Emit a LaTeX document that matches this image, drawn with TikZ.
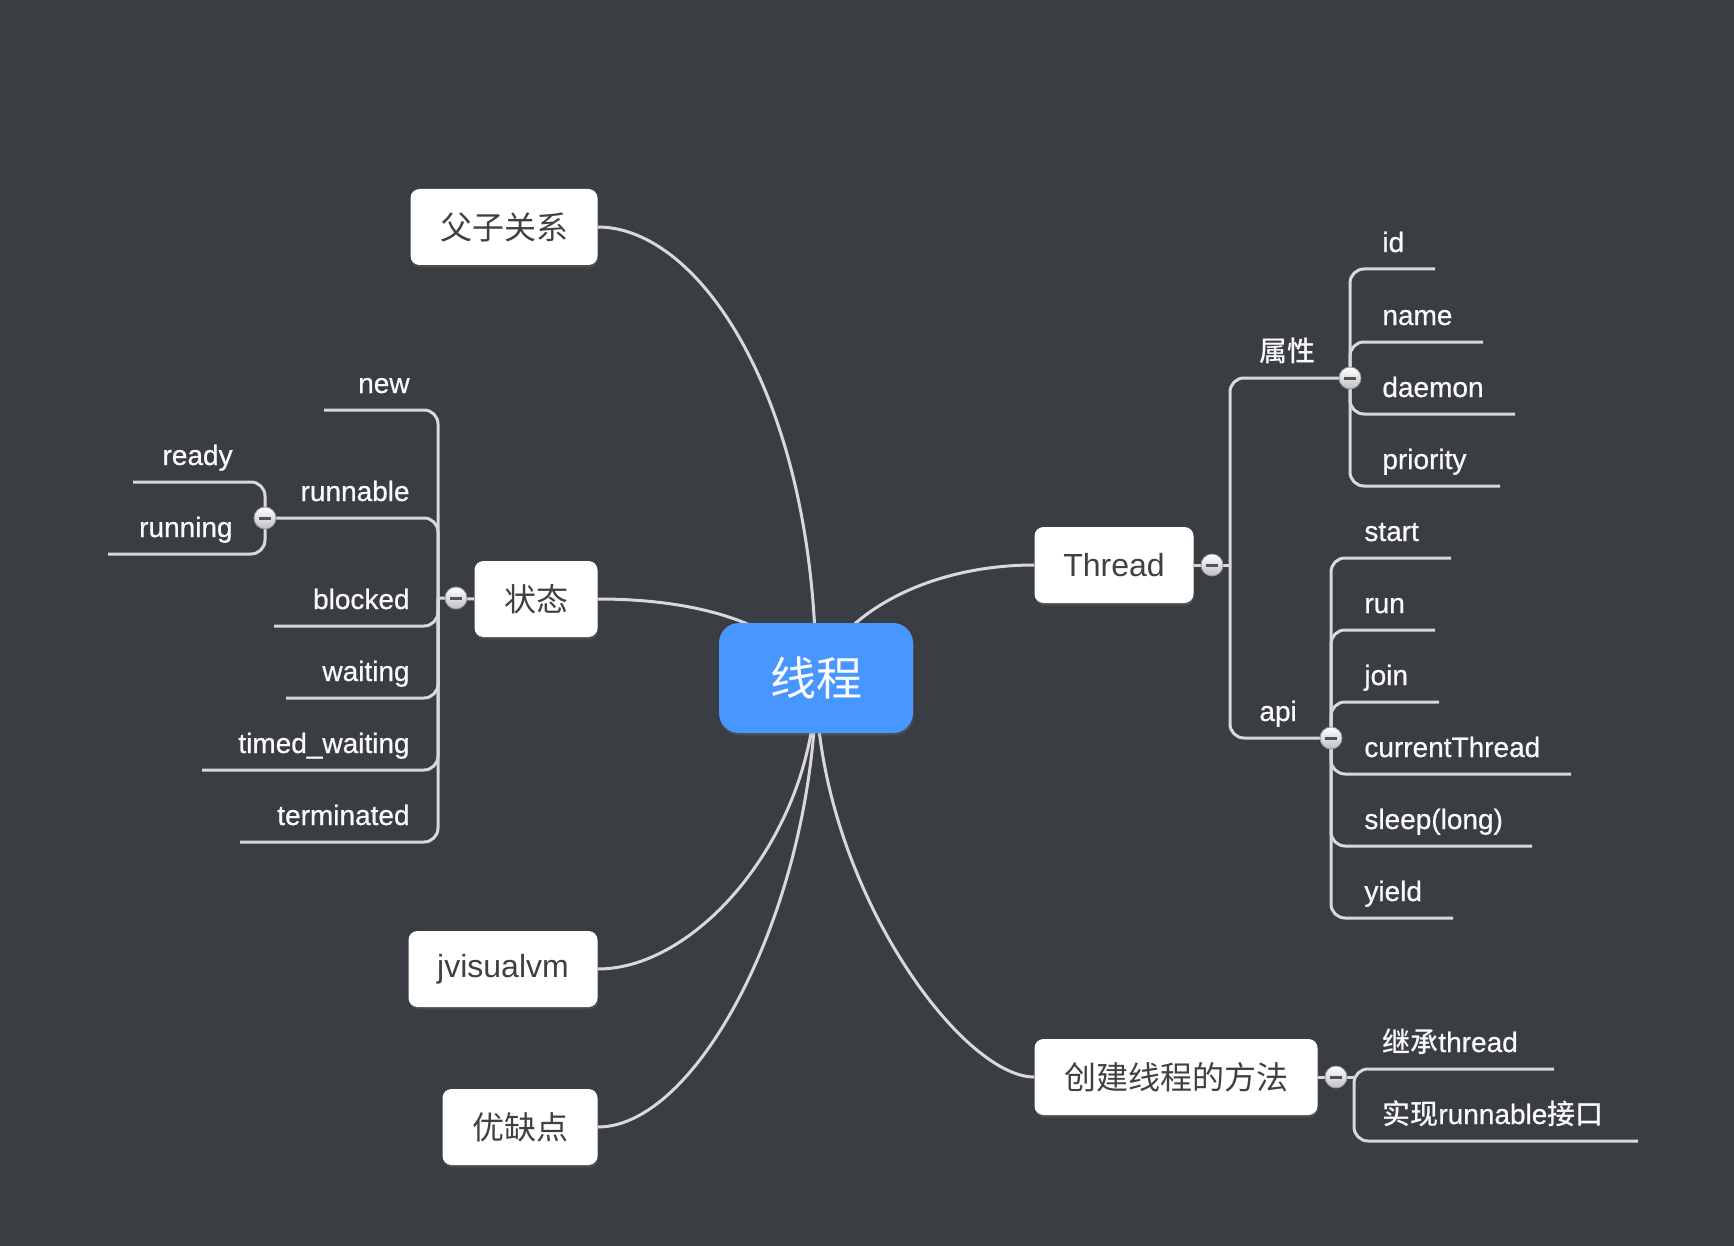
\documentclass[tikz,border=0pt]{standalone}
\usepackage{fontspec}
\setmainfont{Liberation Sans}
\newfontfamily\leaffont[FakeBold=0.7]{Liberation Sans}
\newfontfamily\cjk{Noto Sans CJK SC}
\newfontfamily\cjkleaf{Noto Sans CJK SC Medium}
\usetikzlibrary{shadows}
\definecolor{bg}{RGB}{58,61,66}
\definecolor{linec}{RGB}{217,217,217}
\definecolor{mainblue}{RGB}{72,150,255}
\definecolor{boxtext}{RGB}{64,64,64}
\definecolor{leaftext}{RGB}{250,250,250}
\definecolor{togborder}{RGB}{150,150,150}
\definecolor{togbot}{RGB}{190,192,196}
\definecolor{togminus}{RGB}{80,82,86}
\newcommand\zh[1]{{\cjk #1}}
\newcommand\zhl[1]{{\cjkleaf #1}}
\pgfdeclarelayer{back}
\pgfdeclarelayer{conn}
\pgfsetlayers{back,conn,main}
\begin{document}
\begin{tikzpicture}[x=0.5pt,y=-0.5pt,
  conn/.style={draw=linec,line width=1.5pt},
  br/.style={conn,rounded corners=7pt},
  box/.style={fill=white, rounded corners=4.5pt, minimum height=38pt, inner sep=0pt,
    text=boxtext, font=\fontsize{16pt}{19pt}\selectfont,
    drop shadow={shadow xshift=0.4pt,shadow yshift=-1.2pt,opacity=0.25}},
  mainbox/.style={fill=mainblue, rounded corners=10pt, minimum width=97pt, minimum height=55pt,
    inner sep=0pt, text=white, font=\fontsize{23pt}{26pt}\selectfont,
    drop shadow={shadow xshift=0.4pt,shadow yshift=-1.2pt,opacity=0.25}},
  leafR/.style={anchor=base east, inner sep=0pt, text=leaftext, font=\leaffont\fontsize{14pt}{16pt}\selectfont},
  leafL/.style={anchor=base west, inner sep=0pt, text=leaftext, font=\leaffont\fontsize{14pt}{16pt}\selectfont},
  tog/.style={circle, minimum size=11pt, inner sep=0pt, draw=togborder, line width=0.4pt,
    top color=white, bottom color=togbot,
    path picture={\draw[line width=1.5pt, togminus] ([xshift=-2.8pt]path picture bounding box.center) -- ([xshift=2.8pt]path picture bounding box.center);}}
]
\begin{pgfonlayer}{back}
\fill[bg] (0,0) rectangle (1734,1246);
\end{pgfonlayer}
\useasboundingbox (0,0) rectangle (1734,1246);

% main nodes
\node[mainbox] (main) at (816,678) {\zh{线程}};
\node[box, minimum width=93.5pt] (fz) at (504,227) {\zh{父子关系}};
\node[box, minimum width=61.5pt] (zt) at (536,599) {\zh{状态}};
\node[box, minimum width=94.5pt] (jv) at (503,969) {jvisualvm};
\node[box, minimum width=77.5pt] (yq) at (520,1127) {\zh{优缺点}};
\node[box, minimum width=79.5pt] (th) at (1114,565) {Thread};
\node[box, minimum width=141.5pt] (cj) at (1176,1077) {\zh{创建线程的方法}};

\begin{pgfonlayer}{conn}
\draw[conn] (fz.east) .. controls (700,227) and (816,400) .. (main.center);
\draw[conn] (zt.east) .. controls (690,599) and (780,620) .. (main.center);
\draw[conn] (th.west) .. controls (930,565) and (840,612) .. (main.center);
\draw[conn] (jv.east) .. controls (700,969) and (816,830) .. (main.center);
\draw[conn] (yq.east) .. controls (700,1127) and (816,900) .. (main.center);
\draw[conn] (cj.west) .. controls (960,1077) and (816,880) .. (main.center);
\end{pgfonlayer}

% ---- state group (left)
\coordinate (vz) at (438,598);
\begin{pgfonlayer}{conn}
\draw[conn] (zt.west) -- (vz);
\end{pgfonlayer}
\foreach \n/\t/\y/\x in {snew/new/410/324, sblk/blocked/626/274, swt/waiting/698/286, stw/timed\_waiting/770/202, stm/terminated/842/240} {
  \coordinate (\n-end) at (\x,\y);
  \node[leafR] (\n) at (410,\y-17) {\t};
  \begin{pgfonlayer}{conn}\draw[br] (vz) |- (\n-end);\end{pgfonlayer}
}
\node[leafR] (srun) at (410,501) {runnable};
\node[tog] (tr) at (265,518) {};
\begin{pgfonlayer}{conn}\draw[br] (vz) |- (tr.center);\end{pgfonlayer}
\foreach \n/\t/\y/\x in {srdy/ready/482/133, srng/running/554/108} {
  \coordinate (\n-end) at (\x,\y);
  \node[leafR] (\n) at (233,\y-17) {\t};
  \begin{pgfonlayer}{conn}\draw[br] (tr.center) |- (\n-end);\end{pgfonlayer}
}
\node[tog] (tz) at (456,598) {};

% ---- Thread group
\coordinate (vt) at (1230,565);
\coordinate (vs) at (1350,378);
\coordinate (va) at (1331,738);
\begin{pgfonlayer}{conn}
\draw[conn] (th.east) -- (vt);
\draw[br] (vt) |- (vs);
\draw[br] (vt) |- (va);
\end{pgfonlayer}
\node[leafL] (attr) at (1259,361) {\zhl{属性}};
\node[leafL] (api) at (1259,721) {api};
\foreach \n/\t/\y/\x in {aid/id/269/1435, anm/name/342/1483, adm/daemon/414/1515, apr/priority/486/1500} {
  \coordinate (\n-end) at (\x,\y);
  \node[leafL] (\n) at (1382,\y-17) {\t};
  \begin{pgfonlayer}{conn}\draw[br] (vs) |- (\n-end);\end{pgfonlayer}
}
\foreach \n/\t/\y/\x in {pst/start/558/1451, prn/run/630/1435, pjn/join/702/1439, pct/currentThread/774/1571, psl/sleep(long)/846/1532, pyl/yield/918/1453} {
  \coordinate (\n-end) at (\x,\y);
  \node[leafL] (\n) at (1364,\y-17) {\t};
  \begin{pgfonlayer}{conn}\draw[br] (va) |- (\n-end);\end{pgfonlayer}
}
\node[tog] (tt) at (1212,565) {};
\node[tog] (ts) at (1350,378) {};
\node[tog] (ta) at (1331,738) {};

% ---- create group
\coordinate (vc) at (1354,1077);
\coordinate (jc-end) at (1554,1069);
\coordinate (sx-end) at (1638,1141);
\begin{pgfonlayer}{conn}
\draw[conn] (cj.east) -- (vc);
\draw[br] (jc-end) -| (vc |- sx-end) -- (sx-end);
\end{pgfonlayer}
\node[leafL] (jc) at (1382,1052) {\zhl{继承}thread};
\node[leafL] (sx) at (1382,1124) {\zhl{实现}runnable\zhl{接口}};
\node[tog] (tc) at (1336,1077) {};
\end{tikzpicture}
\end{document}
